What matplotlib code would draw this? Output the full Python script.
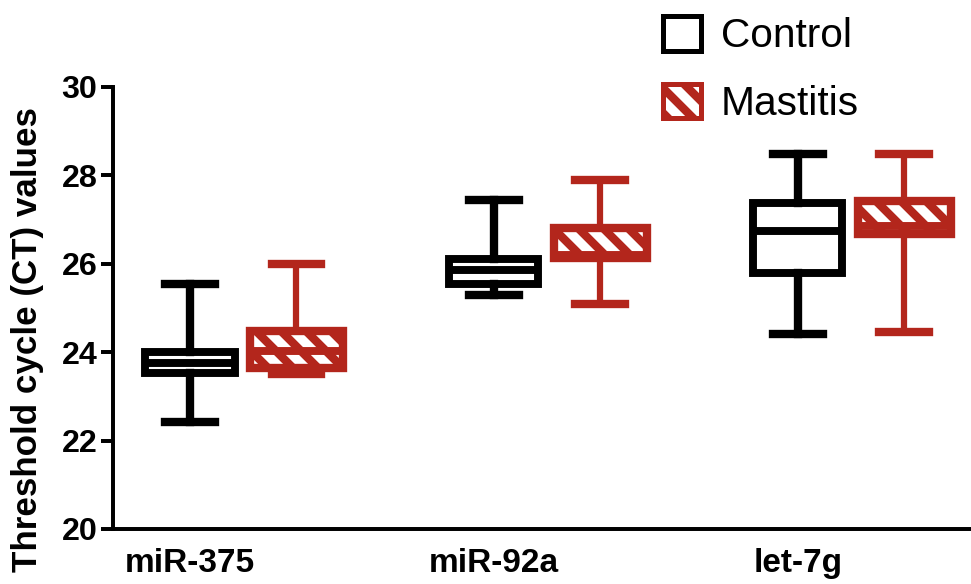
import matplotlib
matplotlib.use('Agg')
import matplotlib.pyplot as plt
from matplotlib.patches import Patch

# --- Data (CT values) ---
genes = ['miR-375', 'miR-92a', 'let-7g']

ctrl_whislo = [22.42, 25.30, 24.42]
ctrl_q1 = [23.53, 25.55, 25.80]
ctrl_med = [23.75, 25.85, 26.75]
ctrl_q3 = [24.00, 26.10, 27.38]
ctrl_whishi = [25.55, 27.45, 28.48]

mast_whislo = [23.50, 25.10, 24.45]
mast_q1 = [23.64, 26.12, 26.68]
mast_med = [24.03, 26.20, 26.85]
mast_q3 = [24.48, 26.80, 27.42]
mast_whishi = [26.00, 27.90, 28.48]

RED = '#b3261c'
plt.rcParams['font.family'] = ['Liberation Sans', 'DejaVu Sans']
plt.rcParams['hatch.color'] = RED
plt.rcParams['hatch.linewidth'] = 4.0


def make_stats(lo, q1, med, q3, hi):
    return [dict(whislo=a, q1=b, med=c, q3=d, whishi=e, fliers=[])
            for a, b, c, d, e in zip(lo, q1, med, q3, hi)]


ctrl_pos = [0, 3, 6]
mast_pos = [1.05, 4.05, 7.05]

fig = plt.figure(figsize=(971 / 150, 584 / 150), dpi=150)
ax = fig.add_axes([113 / 971, 1 - 529 / 584, 1 - 113 / 971, (529 - 87) / 584])

ax.bxp(make_stats(ctrl_whislo, ctrl_q1, ctrl_med, ctrl_q3, ctrl_whishi),
       positions=ctrl_pos, widths=0.88, capwidths=0.49, patch_artist=True,
       showfliers=False,
       boxprops=dict(facecolor='white', edgecolor='black', linewidth=3.8),
       whiskerprops=dict(color='black', linewidth=4.0),
       capprops=dict(color='black', linewidth=4.0),
       medianprops=dict(color='black', linewidth=3.8))

ax.bxp(make_stats(mast_whislo, mast_q1, mast_med, mast_q3, mast_whishi),
       positions=mast_pos, widths=0.92, capwidths=0.49, patch_artist=True,
       showfliers=False,
       boxprops=dict(facecolor='white', edgecolor=RED, linewidth=4.0, hatch='\\\\'),
       whiskerprops=dict(color=RED, linewidth=3.0),
       capprops=dict(color=RED, linewidth=4.0),
       medianprops=dict(color=RED, linewidth=3.8))

ax.set_xlim(-0.76, 7.71)
ax.set_ylim(20, 30)
ax.set_yticks([20, 22, 24, 26, 28, 30])
ax.set_xticks(ctrl_pos)
ax.set_xticklabels(genes)

for spine in ['top', 'right']:
    ax.spines[spine].set_visible(False)
for spine in ['left', 'bottom']:
    ax.spines[spine].set_linewidth(1.9)

ax.tick_params(axis='y', length=6, width=1.9, pad=1.5, labelsize=15.5)
ax.tick_params(axis='x', length=0, pad=9, labelsize=16)
for lbl in ax.get_xticklabels() + ax.get_yticklabels():
    lbl.set_fontweight('bold')

fig.text(28 / 971, 1 - 340 / 584, 'Threshold cycle (CT) values', rotation=90,
         ha='center', va='center', fontsize=16.8, fontweight='bold')

handles = [Patch(facecolor='white', edgecolor='black', linewidth=2.4, label='Control'),
           Patch(facecolor='white', edgecolor=RED, linewidth=2.4, hatch='\\\\', label='Mastitis')]
fig.legend(handles=handles, loc='upper left', bbox_to_anchor=(663 / 971, 1 - 16 / 584),
           frameon=False, fontsize=19.5, handlelength=0.93, handleheight=0.93,
           handletextpad=0.5, labelspacing=0.7, borderpad=0, borderaxespad=0)

fig.savefig('out.png', dpi=150, facecolor='white')
